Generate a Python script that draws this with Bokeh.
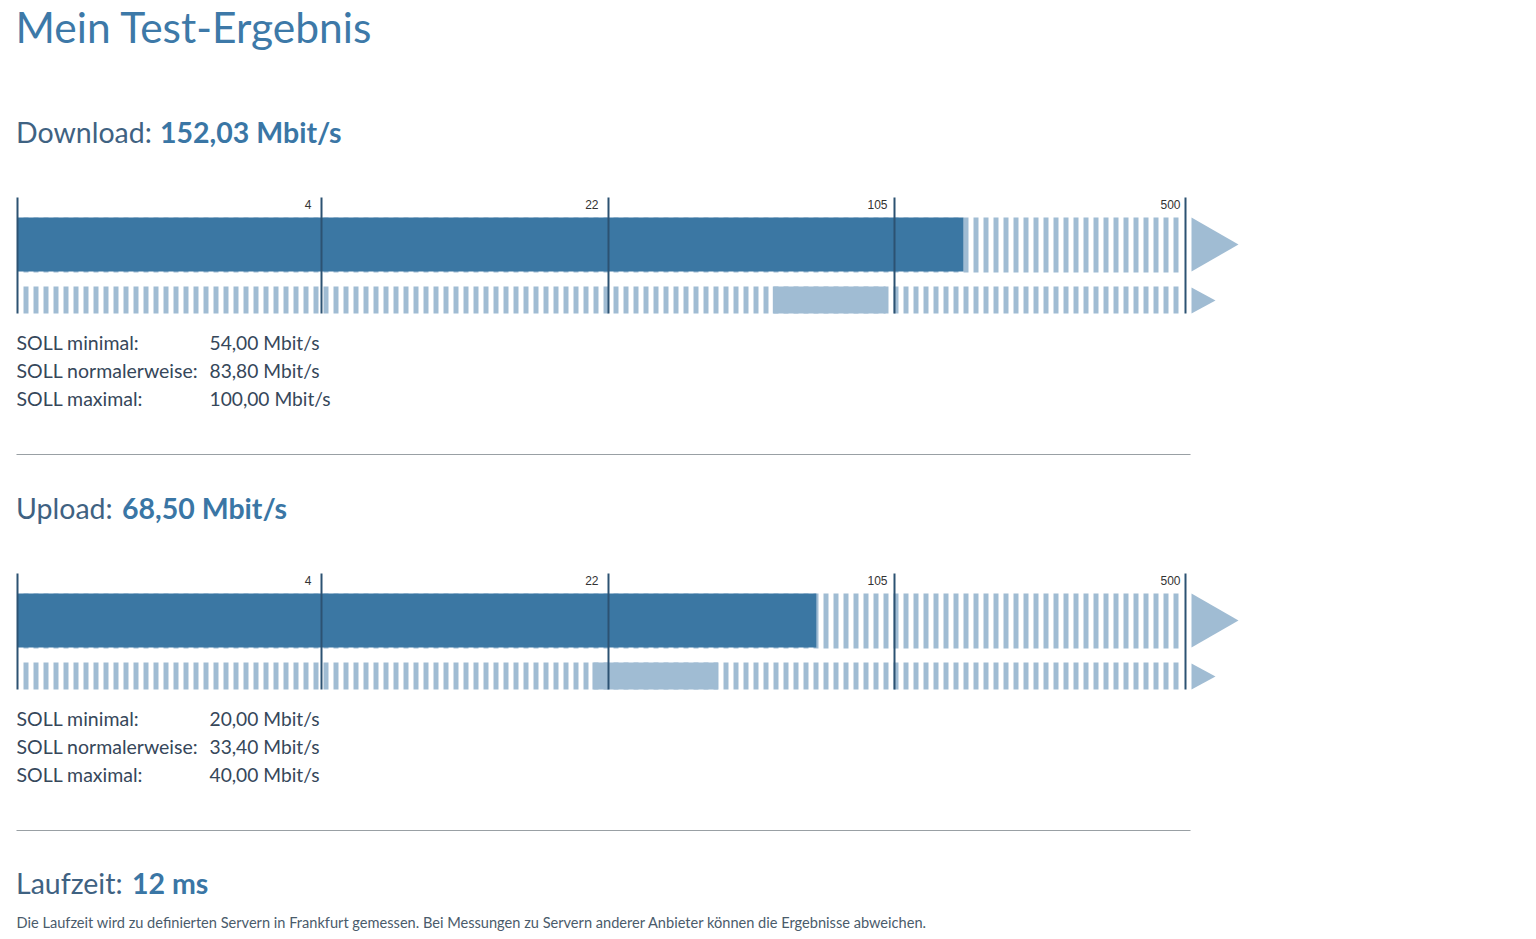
import numpy as np
from bokeh.plotting import figure
from bokeh.models import Range1d
from bokeh.core.properties import value
from bokeh.embed import file_html
from bokeh.resources import INLINE

# ---------------- data ----------------
page_title = "Mein Test-Ergebnis"
sections = ["Download", "Upload"]
measured = [152.03, 68.50]            # Mbit/s
soll_min = [54.00, 20.00]
soll_norm = [83.80, 33.40]
soll_max = [100.00, 40.00]
soll_labels = ["SOLL minimal:", "SOLL normalerweise:", "SOLL maximal:"]
scale_ticks = [4, 22, 105, 500]       # Mbit/s, tick labels of the scale
laufzeit_ms = 12
footer = ("Die Laufzeit wird zu definierten Servern in Frankfurt gemessen. "
          "Bei Messungen zu Servern anderer Anbieter können die Ergebnisse abweichen.")

# ---------------- style / layout ----------------
FONT = "Lato"
DARK = "#3b77a3"
LIGHT = "#a0bcd3"
TICKC = "#2c5272"
TITLEC = "#3d79a8"
HEADC = "#3f6282"
BOLDC = "#3a76a5"
TEXTC = "#36475a"
FOOTC = "#4a5b6b"

W, H = 1530, 936
p = figure(width=W, height=H, output_backend="svg", toolbar_location=None,
           x_range=Range1d(0, W), y_range=Range1d(H, 0),
           min_border=0, outline_line_color=None)
p.axis.visible = False
p.grid.visible = False
p.background_fill_color = "white"

# scale: piecewise logarithmic between tick values
edge_px = [17, 321, 608, 894, 1185]
edge_val = [0] + scale_ticks
label_pad = [10, 10, 7, 5]


def sx(v):
    for i in range(len(edge_val) - 1):
        a, b = edge_val[i], edge_val[i + 1]
        if v <= b or i == len(edge_val) - 2:
            if a == 0:
                f = v / b
            else:
                f = np.log(v / a) / np.log(b / a)
            return edge_px[i] + f * (edge_px[i + 1] - edge_px[i])


def de(v):
    return f"{v:.2f}".replace(".", ",")


SEC_DY = 376
for k, name in enumerate(sections):
    dy = k * SEC_DY
    # heading
    p.text(x=[15.5], y=[131.5 + dy], text=[f"{name}:"], text_font=value(FONT),
           text_font_size="28.5px", text_color=HEADC, text_baseline="middle")
    bx = 159.5 if k == 0 else 121.5
    p.text(x=[bx], y=[131.5 + dy], text=[f"{de(measured[k])} Mbit/s"], text_font=value(FONT),
           text_font_size="28.5px", text_font_style="bold", text_color=BOLDC,
           text_baseline="middle")

    r1t, r1b = 217 + dy, 271 + dy
    r2t, r2b = 286 + dy, 313 + dy
    x0 = sx(0)
    xend = sx(scale_ticks[-1]) - 4
    # hatched backgrounds
    p.quad(left=[x0 + 2], right=[xend], top=[r1t], bottom=[r1b + 1], fill_color=None,
           line_color=None, hatch_pattern="vertical_line", hatch_color=LIGHT,
           hatch_scale=10, hatch_weight=5)
    p.quad(left=[x0 + 2], right=[xend], top=[r2t], bottom=[r2b], fill_color=None,
           line_color=None, hatch_pattern="vertical_line", hatch_color=LIGHT,
           hatch_scale=10, hatch_weight=5)
    # measured bar
    p.quad(left=[x0], right=[sx(measured[k])], top=[r1t], bottom=[r1b],
           fill_color=DARK, line_color=None)
    # SOLL range
    p.quad(left=[sx(soll_min[k])], right=[sx(soll_max[k])], top=[r2t], bottom=[r2b],
           fill_color=LIGHT, line_color=None)
    # arrows
    ax = sx(scale_ticks[-1]) + 6
    p.patch(x=[ax, ax, ax + 47], y=[r1t, r1b, (r1t + r1b) / 2], fill_color=LIGHT, line_color=None)
    p.patch(x=[ax, ax, ax + 24], y=[r2t + 1, r2b, (r2t + r2b + 1) / 2], fill_color=LIGHT, line_color=None)
    # tick lines
    txs = [sx(0)] + [sx(t) for t in scale_ticks]
    p.segment(x0=txs, x1=txs, y0=[197 + dy] * len(txs), y1=[313 + dy] * len(txs),
              line_color=TICKC, line_width=2)
    p.text(x=[sx(t) - pad for t, pad in zip(scale_ticks, label_pad)], y=[203.5 + dy] * len(scale_ticks),
           text=[str(t) for t in scale_ticks], text_font=value("Liberation Sans"),
           text_font_size="12px", text_color="#333333", text_align="right",
           text_baseline="middle")
    # SOLL texts
    vals = [soll_min[k], soll_norm[k], soll_max[k]]
    ys = [342 + dy + 28 * i for i in range(3)]
    p.text(x=[16] * 3, y=ys, text=soll_labels, text_font=value(FONT), text_font_size="19.5px",
           text_color=TEXTC, text_baseline="middle")
    p.text(x=[209] * 3, y=ys, text=[f"{de(v)} Mbit/s" for v in vals], text_font=value(FONT),
           text_font_size="19.2px", text_color=TEXTC, text_baseline="middle")
    # separator
    p.segment(x0=[16], x1=[1190], y0=[454 + dy], y1=[454 + dy], line_color="#99a0a4", line_width=1.2)

# title
p.text(x=[15], y=[26], text=[page_title], text_font=value(FONT), text_font_size="42.5px",
       text_color=TITLEC, text_baseline="middle")

# Laufzeit
p.text(x=[15.5], y=[882.5], text=["Laufzeit:"], text_font=value(FONT), text_font_size="28.5px",
       text_color=HEADC, text_baseline="middle")
p.text(x=[131.5], y=[882.5], text=[f"{laufzeit_ms} ms"], text_font=value(FONT), text_font_size="28.5px",
       text_font_style="bold", text_color=BOLDC, text_baseline="middle")
p.text(x=[16], y=[922], text=[footer], text_font=value(FONT), text_font_size="14.6px",
       text_color=FOOTC, text_baseline="middle")

open("out.html", "w").write(file_html(p, INLINE))
